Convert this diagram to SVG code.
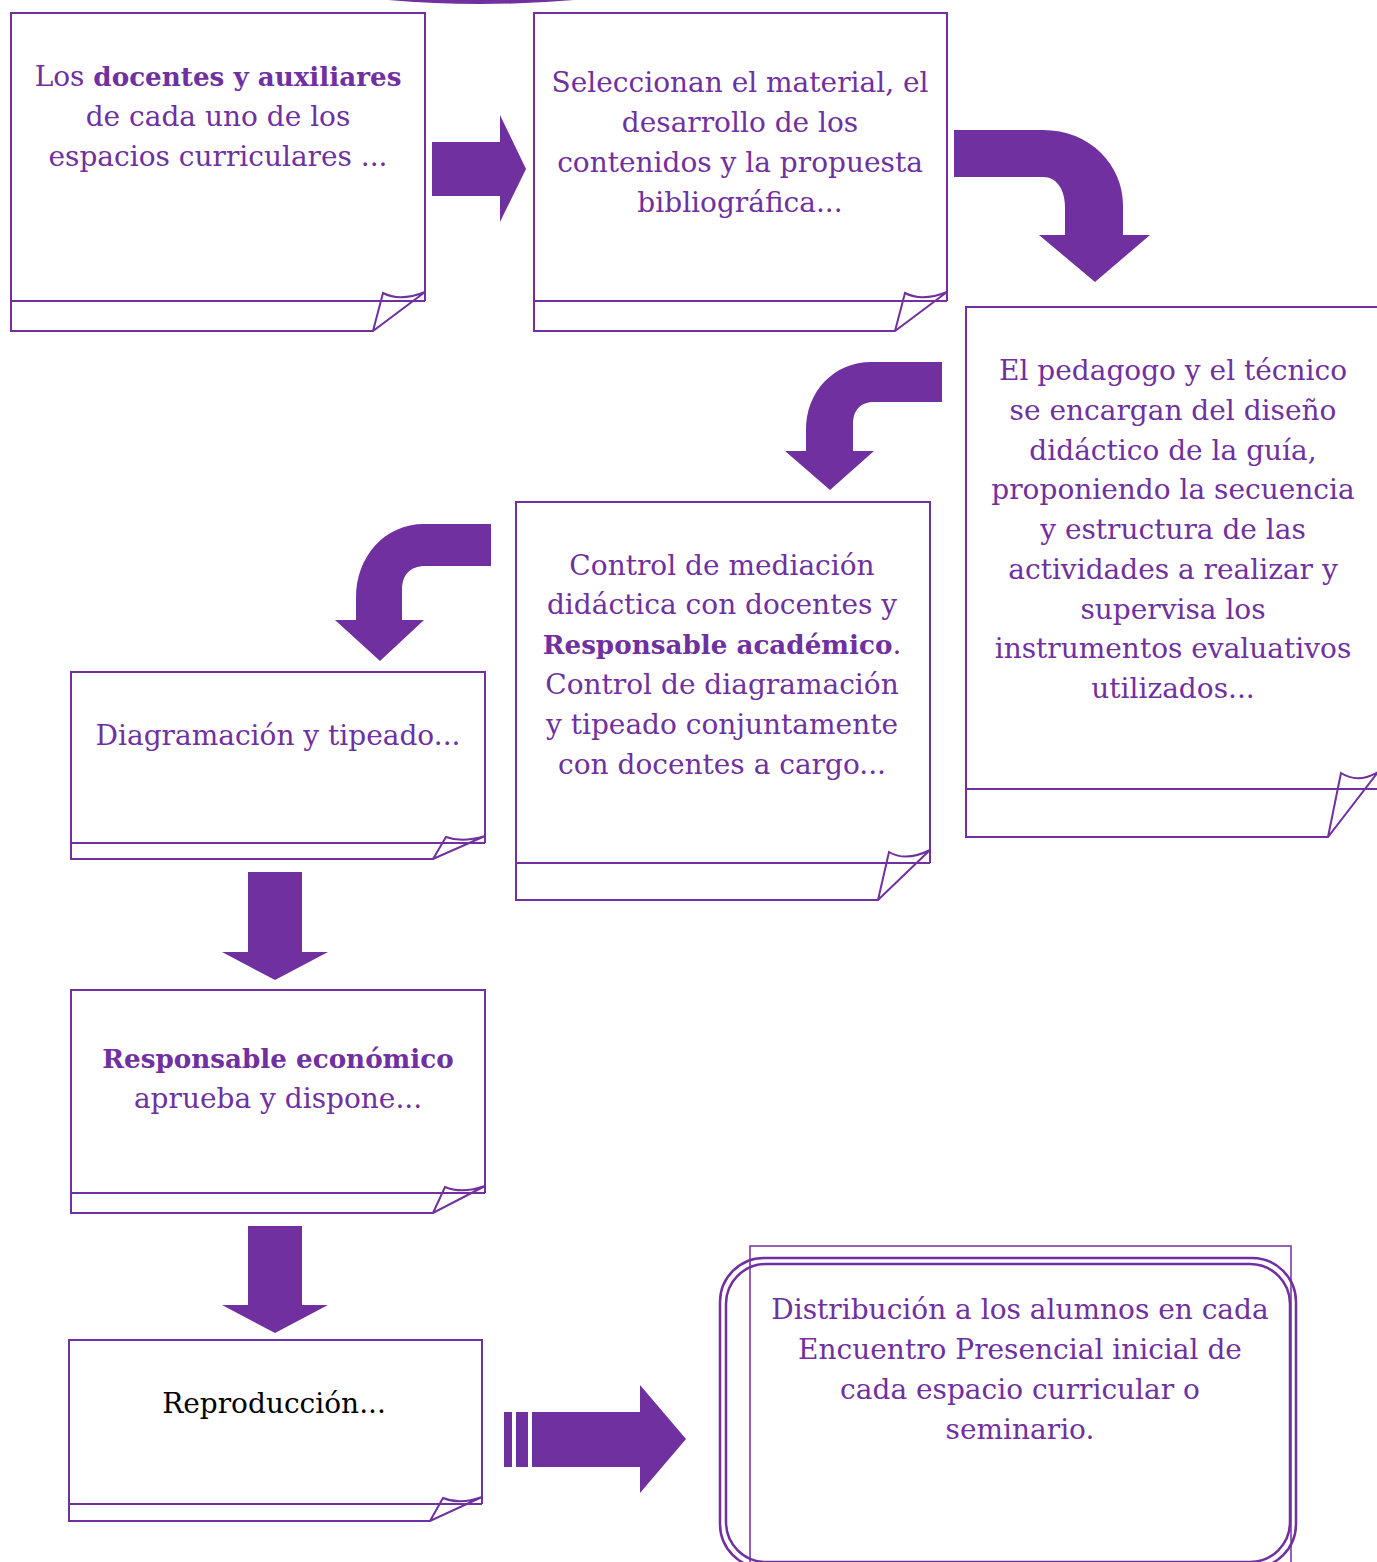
<svg xmlns="http://www.w3.org/2000/svg" width="1377" height="1562" viewBox="0 0 1377 1562">
<style>
.box{fill:none;stroke:#7030A0;stroke-width:2;stroke-linejoin:miter}
.arr{fill:#7030A0;stroke:none}
.t{font-family:"DejaVu Serif","Liberation Serif",serif;font-size:28px;fill:#7030A0;text-anchor:middle}
.b{font-weight:bold;font-size:26.2px}
</style>
<rect width="1377" height="1562" fill="#fff"/>
<path class="arr" d="M388,0 Q480,8 574,0 Z"/>
<g id="connectors">
<path class="arr" d="M432,142 L500,142 L500,115 L526,169 L500,222 L500,196 L432,196 Z"/>
<path class="arr" d="M954,130 L1043,130 C1090,130 1123,165 1123,205 L1123,235 L1150,235 L1095,282 L1039,235 L1065,235 L1065,207 C1065,190 1057,177 1043,177 L954,177 Z"/>
<path class="arr" d="M942,362 L872,362 C833,362 806,392 806,430 L806,451 L785,451 L830,490 L874,451 L853,451 L853,425 C853,410 860,402 875,402 L942,402 Z"/>
<path class="arr" d="M491,524 L424,524 C385,524 356,556 356,598 L356,620 L335,620 L380,661 L424,620 L402,620 L402,590 C402,575 410,566 425,566 L491,566 Z"/>
<path class="arr" d="M248,872 L302,872 L302,952 L328,952 L275,980 L222,952 L248,952 Z"/>
<path class="arr" d="M248,1226 L302,1226 L302,1305 L328,1305 L275,1333 L222,1305 L248,1305 Z"/>
<rect class="arr" x="504" y="1412" width="8" height="55"/>
<rect class="arr" x="516" y="1412" width="12" height="55"/>
<path class="arr" d="M532,1412 L640,1412 L640,1385 L686,1439 L640,1493 L640,1467 L532,1467 Z"/>
</g>
<g id="node1">
<path class="box" d="M11,301 L11,13 L425,13 L425,301 M11,301 L425,301 M11,301 L11,331 L373,331 L425,292 M373,331 L383,293 Q400,302 425,292"/>
<text class="t" x="218" y="86">Los <tspan class="b">docentes y auxiliares</tspan></text>
<text class="t" x="218" y="126">de cada uno de los</text>
<text class="t" x="218" y="166">espacios curriculares ...</text>
</g>
<g id="node2">
<path class="box" d="M534,301 L534,13 L947,13 L947,301 M534,301 L947,301 M534,301 L534,331 L895,331 L947,292 M895,331 L905,293 Q922,302 947,292"/>
<text class="t" x="740" y="92">Seleccionan el material, el</text>
<text class="t" x="740" y="132">desarrollo de los</text>
<text class="t" x="740" y="172">contenidos y la propuesta</text>
<text class="t" x="740" y="212">bibliográfica...</text>
</g>
<g id="node3">
<path class="box" d="M966,789 L966,307 L1378,307 L1378,789 M966,789 L1378,789 M966,789 L966,837 L1328,837 L1378,772 M1328,837 L1341,773 Q1358,784 1378,772"/>
<text class="t" x="1173" y="380">El pedagogo y el técnico</text>
<text class="t" x="1173" y="420">se encargan del diseño</text>
<text class="t" x="1173" y="460">didáctico de la guía,</text>
<text class="t" x="1173" y="499">proponiendo la secuencia</text>
<text class="t" x="1173" y="539">y estructura de las</text>
<text class="t" x="1173" y="579">actividades a realizar y</text>
<text class="t" x="1173" y="619">supervisa los</text>
<text class="t" x="1173" y="658">instrumentos evaluativos</text>
<text class="t" x="1173" y="698">utilizados...</text>
</g>
<g id="node4">
<path class="box" d="M516,863 L516,502 L930,502 L930,863 M516,863 L930,863 M516,863 L516,900 L878,900 L930,850 M878,900 L889,852 Q906,862 930,850"/>
<text class="t" x="722" y="575">Control de mediación</text>
<text class="t" x="722" y="614">didáctica con docentes y</text>
<text class="t" x="722" y="654"><tspan class="b">Responsable académico</tspan>.</text>
<text class="t" x="722" y="694">Control de diagramación</text>
<text class="t" x="722" y="734">y tipeado conjuntamente</text>
<text class="t" x="722" y="774">con docentes a cargo...</text>
</g>
<g id="node5">
<path class="box" d="M71,843 L71,672 L485,672 L485,843 M71,843 L485,843 M71,843 L71,859 L433,859 L485,836 M433,859 L446,837 Q462,843 485,836"/>
<text class="t" x="278" y="745">Diagramación y tipeado...</text>
</g>
<g id="node6">
<path class="box" d="M71,1193 L71,990 L485,990 L485,1193 M71,1193 L485,1193 M71,1193 L71,1213 L433,1213 L485,1186 M433,1213 L445,1187 Q462,1194 485,1186"/>
<text class="t b" x="278" y="1068">Responsable económico</text>
<text class="t" x="278" y="1108">aprueba y dispone...</text>
</g>
<g id="node7">
<path class="box" d="M69,1504 L69,1340 L482,1340 L482,1504 M69,1504 L482,1504 M69,1504 L69,1521 L430,1521 L482,1497 M430,1521 L443,1498 Q460,1505 482,1497"/>
<text class="t" x="274" y="1413" style="fill:#000">Reproducción...</text>
</g>
<g id="node8">
<rect x="750" y="1246" width="541" height="340" fill="none" stroke="#7030A0" stroke-width="1.5"/>
<rect x="720" y="1258" width="576" height="310" rx="44" ry="44" fill="none" stroke="#7030A0" stroke-width="2.5"/>
<rect x="726" y="1264" width="564" height="298" rx="40" ry="40" fill="none" stroke="#7030A0" stroke-width="2.5"/>
<text class="t" x="1020" y="1319">Distribución a los alumnos en cada</text>
<text class="t" x="1020" y="1359">Encuentro Presencial inicial de</text>
<text class="t" x="1020" y="1399">cada espacio curricular o</text>
<text class="t" x="1020" y="1439">seminario.</text>
</g>
</svg>
